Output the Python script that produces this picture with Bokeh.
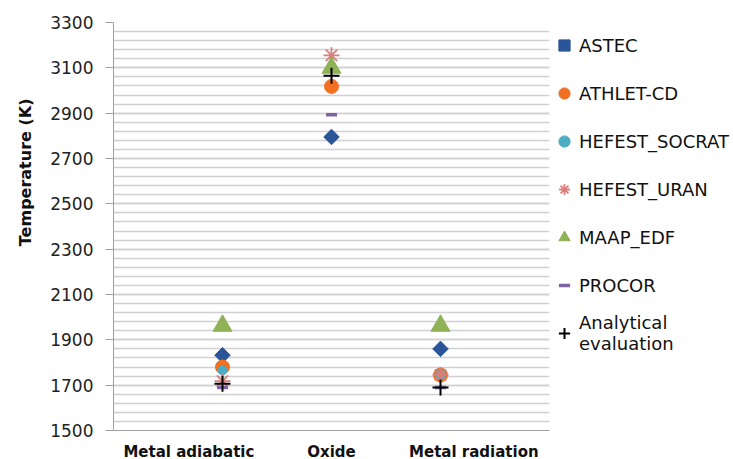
import math
from bokeh.plotting import figure
from bokeh.models import Legend, LegendItem, FixedTicker, Range1d, LinearAxis, Title
from bokeh.embed import file_html
from bokeh.resources import INLINE

categories = ["Metal  adiabatic", "Oxide", "Metal  radiation"]
xpos = [1, 2, 3]
y_ticks = [1500, 1700, 1900, 2100, 2300, 2500, 2700, 2900, 3100, 3300]
y_minor = list(range(1500, 3301, 40))
astec = [1832, 2795, 1860]
athlet = [1780, 3018, 1745]
hefest_socrat = [1765, 3100, 1745]
hefest_uran = [1718, 3155, 1745]
maap_edf = [1962, 3100, 1962]
procor = [1690, 2893, 1690]
analytical = [1706, 3065, 1690]

# where the category captions sit along the bottom (pixels across the plot area)
caption_pos = [78, 218, 363]

FONT = "DejaVu Sans"

p = figure(frame_width=436, frame_height=408, output_backend="svg", toolbar_location=None,
           x_range=Range1d(0, 4), y_range=Range1d(1500, 3300),
           min_border_left=112, min_border_top=22, min_border_bottom=29, min_border_right=10)
p.outline_line_color = None
p.background_fill_color = "white"
p.extra_x_ranges = {"captions": Range1d(0, 436)}

p.xgrid.grid_line_color = None
p.yaxis.ticker = FixedTicker(ticks=y_ticks, minor_ticks=y_minor)
p.ygrid.grid_line_color = "#D0D0D0"
p.ygrid.minor_grid_line_color = "#D0D0D0"
p.ygrid.grid_line_width = 1.5
p.ygrid.minor_grid_line_width = 1.5

p.xaxis.visible = False
xax = LinearAxis(x_range_name="captions")
xax.ticker = FixedTicker(ticks=caption_pos)
xax.major_label_overrides = {x: c for x, c in zip(caption_pos, categories)}
xax.major_tick_line_color = None
xax.minor_tick_line_color = None
xax.axis_line_color = "#A0A0A0"
xax.major_label_text_font = FONT
xax.major_label_text_font_style = "bold"
xax.major_label_text_font_size = "15px"
xax.major_label_text_color = "#111111"
xax.major_label_standoff = 6
p.add_layout(xax, "below")

p.yaxis.axis_line_color = "#A0A0A0"
p.yaxis.major_tick_line_color = "#A0A0A0"
p.yaxis.major_tick_out = 8
p.yaxis.major_tick_in = 0
p.yaxis.minor_tick_line_color = None
p.yaxis.major_label_text_font = FONT
p.yaxis.major_label_text_font_size = "17px"
p.yaxis.major_label_text_color = "#222222"
p.yaxis.major_label_standoff = 12

ytitle = Title(text="Temperature (K)", align="right", offset=76, standoff=26,
               text_font=FONT, text_font_style="bold", text_font_size="16px",
               text_color="#111111")
p.add_layout(ytitle, "left")

r1 = p.scatter(xpos, astec, marker="square", size=11, angle=math.pi / 4,
               fill_color="#2A5699", line_color="#2A5699")
r2 = p.scatter(xpos, athlet, marker="circle", size=14, fill_color="#F36F21", line_color="#F36F21")
r3 = p.scatter(xpos, hefest_socrat, marker="circle", size=9, fill_color="#4BACC6", line_color="#4BACC6")
r4 = p.scatter(xpos, hefest_uran, marker="asterisk", size=16, line_color="#D9807C", line_width=1.8)
r5 = p.scatter(xpos, maap_edf, marker="triangle", size=19, fill_color="#8FB257", line_color="#8FB257")
r6 = p.scatter(xpos, procor, marker="dash", size=11, line_color="#8064A2", line_width=3.5)
r7 = p.scatter(xpos, analytical, marker="cross", size=16, line_color="black", line_width=2)

legend = Legend(items=[
    LegendItem(label="ASTEC", renderers=[r1]),
    LegendItem(label="ATHLET-CD", renderers=[r2]),
    LegendItem(label="HEFEST_SOCRAT", renderers=[r3]),
    LegendItem(label="HEFEST_URAN", renderers=[r4]),
    LegendItem(label="MAAP_EDF", renderers=[r5]),
    LegendItem(label="PROCOR", renderers=[r6]),
    LegendItem(label="Analytical\nevaluation", renderers=[r7]),
], location="top_left")
legend.border_line_color = None
legend.background_fill_alpha = 0
legend.margin = 0
legend.padding = 4
legend.glyph_width = 30
legend.glyph_height = 28
legend.label_height = 46
legend.spacing = 2
legend.label_standoff = 0
legend.label_text_font = FONT
legend.label_text_font_size = "18px"
legend.label_text_color = "#111111"
p.add_layout(legend, "right")

open("out.html", "w").write(file_html(p, INLINE))
